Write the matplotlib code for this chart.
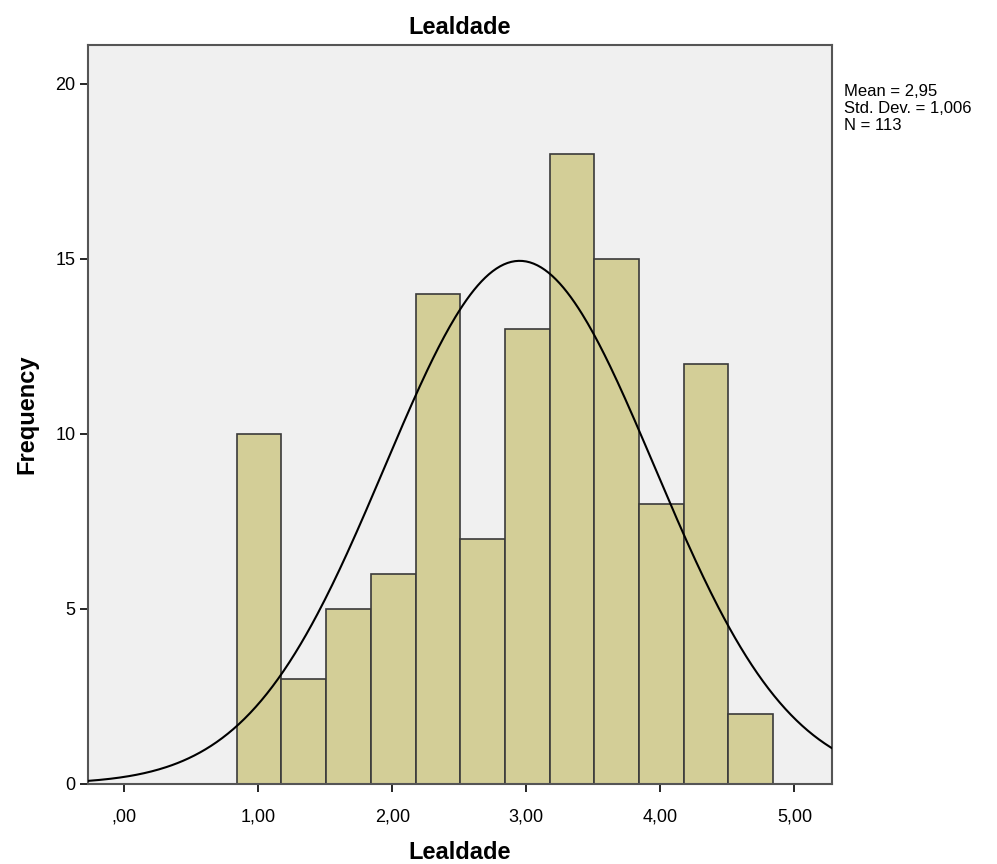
import numpy as np
import matplotlib
matplotlib.use("Agg")
import matplotlib.pyplot as plt

# histogram data (SPSS style)
bin_start = 0.84
bin_width = 1 / 3
counts = [10, 3, 5, 6, 14, 7, 13, 18, 15, 8, 12, 2]
mean, sd, n = 2.95, 1.006, 113
xticks = [0, 1, 2, 3, 4, 5]
xtick_labels = [",00", "1,00", "2,00", "3,00", "4,00", "5,00"]
yticks = [0, 5, 10, 15, 20]

plt.rcParams['font.family'] = ['Liberation Sans', 'DejaVu Sans']

fig = plt.figure(figsize=(9.97, 8.64), dpi=100)
ax = fig.add_axes([88 / 997, 1 - 784 / 864, (832 - 88) / 997, (784 - 45) / 864])
ax.set_facecolor('#f0f0f0')

lefts = bin_start + bin_width * np.arange(len(counts))
ax.bar(lefts, counts, width=bin_width, align='edge', color='#d3ce97',
       edgecolor='#3a3a3a', linewidth=1.2, zorder=2)

# normal curve scaled to counts
xs = np.linspace(-0.27, 5.28, 400)
ys = n * bin_width / (sd * np.sqrt(2 * np.pi)) * np.exp(-0.5 * ((xs - mean) / sd) ** 2)
ax.plot(xs, ys, color='black', linewidth=1.5, zorder=3)

ax.set_xlim(-0.27, 5.28)
ax.set_ylim(0, 21.1)
ax.set_xticks(xticks)
ax.set_xticklabels(xtick_labels)
ax.set_yticks(yticks)
ax.tick_params(axis='x', labelsize=13, length=6, width=1.2, color='black',
               direction='out', pad=12)
ax.tick_params(axis='y', labelsize=13, length=6, width=1.2, color='black',
               direction='out', pad=3)
for s in ax.spines.values():
    s.set_color('#555555')
    s.set_linewidth(1.5)

ax.set_title('Lealdade', fontsize=17, fontweight='bold', pad=8)
ax.set_xlabel('Lealdade', fontsize=17, fontweight='bold', labelpad=11)
ax.set_ylabel('Frequency', fontsize=17, fontweight='bold', labelpad=12)

# decimal comma, as in the original output
mean_txt = f"{mean:.2f}".replace('.', ',')
sd_txt = f"{sd:.3f}".replace('.', ',')
fig.text(844 / 997, 1 - 84 / 864,
         f"Mean = {mean_txt}\nStd. Dev. = {sd_txt}\nN = {n}",
         fontsize=12, va='top', ha='left', linespacing=1.15)

fig.savefig('out.png', dpi=100)
